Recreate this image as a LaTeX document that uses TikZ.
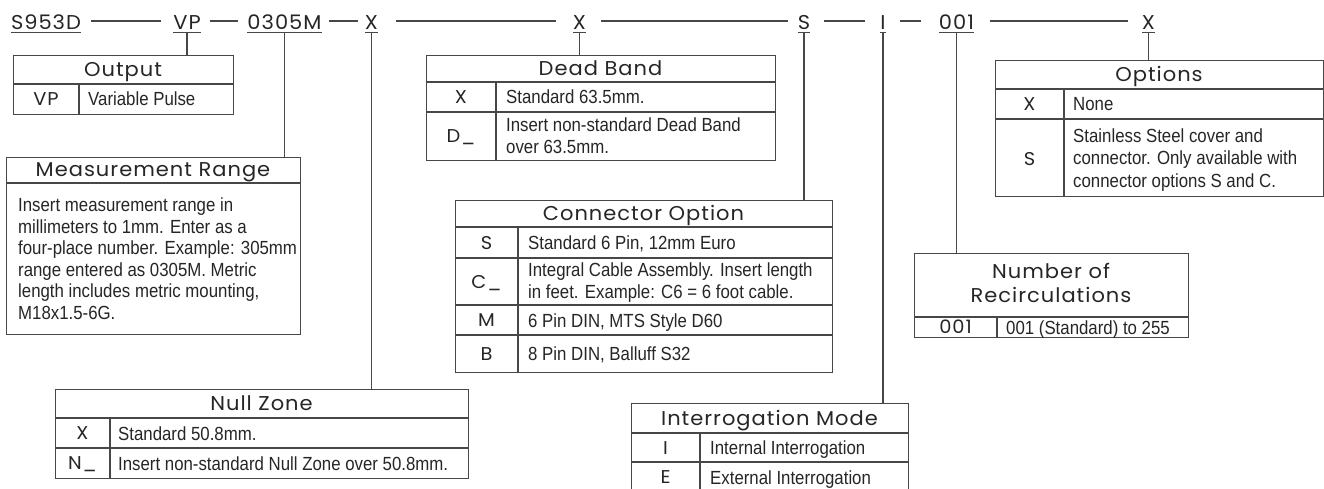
\documentclass[tikz,border=0pt]{standalone}
\usepackage{fontspec}
\setmainfont{Liberation Sans}[FakeStretch=0.885]
\newfontfamily\geo{Poppins}[FakeStretch=1.05, LetterSpace=5]
\tikzset{
  ln/.style={draw=black!72, line width=1.2pt},
  code/.style={font=\geo\fontsize{20}{20}\selectfont, inner xsep=0pt, inner ysep=2pt,
    text height=14pt, text depth=0pt, anchor=base, text=black!85},
  frame/.style={ln, rectangle, inner sep=0pt, anchor=north west},
  hdr/.style={font=\geo\fontsize{20}{24}\selectfont, inner sep=0pt, text=black!85,
    align=center, text height=14pt, text depth=0pt},
  key/.style={font=\geo\fontsize{18.5}{18.5}\selectfont, inner sep=0pt, text=black!85,
    text height=13pt, text depth=0pt},
  desc/.style={font=\fontsize{19}{22}\selectfont, inner sep=0pt, anchor=west, align=left,
    text=black!85, text height=14pt, text depth=0pt},
  multi/.style={text height={}, text depth={}},
}
\begin{document}
\begin{tikzpicture}[x=1pt,y=-1pt]
\clip (0,0) rectangle (1324,489);
\fill[white] (0,0) rectangle (1324,489);

% ---- code string ----
\node[code] (c1) at (46,30) {S953D};
\node[code] (c2) at (187,30) {VP};
\node[code] (c3) at (284.5,30) {0305M};
\node[code] (c4) at (371.5,30) {X};
\node[code] (c5) at (579.5,30) {X};
\node[code] (c6) at (804,30) {S};
\node[code] (c7) at (883,30) {I};
\node[code] (c8) at (956.5,30) {001};
\node[code] (c9) at (1148.5,30) {X};
\foreach \n in {c1,c2,c3,c4,c5,c6,c7,c8,c9}{\draw[ln] (\n.south west) -- (\n.south east);}
\draw[ln] ([xshift=10pt,yshift=2pt]c1.east) -- ([xshift=-12pt,yshift=2pt]c2.west);
\draw[ln] ([xshift=9pt,yshift=2pt]c2.east) -- ([xshift=-9pt,yshift=2pt]c3.west);
\draw[ln] ([xshift=7pt,yshift=2pt]c3.east) -- ([xshift=-7pt,yshift=2pt]c4.west);
\draw[ln] ([xshift=18pt,yshift=2pt]c4.east) -- ([xshift=-17pt,yshift=2pt]c5.west);
\draw[ln] ([xshift=15pt,yshift=2pt]c5.east) -- ([xshift=-10pt,yshift=2pt]c6.west);
\draw[ln] ([xshift=14pt,yshift=2pt]c6.east) -- ([xshift=-15pt,yshift=2pt]c7.west);
\draw[ln] ([xshift=14pt,yshift=2pt]c7.east) -- ([xshift=-18pt,yshift=2pt]c8.west);
\draw[ln] ([xshift=16pt,yshift=2pt]c8.east) -- ([xshift=-14pt,yshift=2pt]c9.west);

% ---- Output ----
\node[frame, minimum width=220pt, minimum height=59pt] (tOut) at (13,55) {};
\draw[ln] (13,84) -- (233,84);
\draw[ln] (79,84) -- (79,114);
\node[hdr] (hOut) at (123,69.5) {Output};
\node[key] (kOut) at (46,99) {VP};
\node[desc] (dOut) at (88,99) {Variable Pulse};

% ---- Measurement Range ----
\node[frame, minimum width=294pt, minimum height=177pt] (tMR) at (6,157) {};
\draw[ln] (6,183) -- (300,183);
\node[hdr] (hMR) at (153,170) {Measurement Range};
\node[desc, multi, anchor=north west, font=\fontsize{19}{21.5}\selectfont] (dMR) at (18,198)
 {Insert measurement range in\\millimeters to 1mm. Enter as a\\four-place number. Example: 305mm\\range entered as 0305M. Metric\\length includes metric mounting,\\M18x1.5-6G.};

% ---- Null Zone ----
\node[frame, minimum width=413pt, minimum height=89pt] (tNZ) at (55,389) {};
\draw[ln] (55,418) -- (468,418);
\draw[ln] (55,448) -- (468,448);
\draw[ln] (110,418) -- (110,478);
\node[hdr] (hNZ) at (261.5,403.5) {Null Zone};
\node[key] (kNZ1) at (82.5,433) {X};
\node[desc] (dNZ1) at (118,433) {Standard 50.8mm.};
\node[key] (kNZ2) at (82.5,463) {N\_};
\node[desc] (dNZ2) at (118,463) {Insert non-standard Null Zone over 50.8mm.};

% ---- Dead Band ----
\node[frame, minimum width=349pt, minimum height=105pt] (tDB) at (426,55) {};
\draw[ln] (426,82) -- (775,82);
\draw[ln] (426,112) -- (775,112);
\draw[ln] (496,82) -- (496,160);
\node[hdr] (hDB) at (600.5,68.5) {Dead Band};
\node[key] (kDB1) at (461,97) {X};
\node[desc] (dDB1) at (506,97) {Standard 63.5mm.};
\node[key] (kDB2) at (461,136) {D\_};
\node[desc, multi] (dDB2) at (506,136) {Insert non-standard Dead Band\\over 63.5mm.};

% ---- Connector Option ----
\node[frame, minimum width=377pt, minimum height=172pt] (tCO) at (455,200) {};
\draw[ln] (455,227) -- (832,227);
\draw[ln] (455,258) -- (832,258);
\draw[ln] (455,305) -- (832,305);
\draw[ln] (455,335) -- (832,335);
\draw[ln] (518,227) -- (518,372);
\node[hdr] (hCO) at (643.5,213.5) {Connector Option};
\node[key] (kCO1) at (486.5,242.5) {S};
\node[desc] (dCO1) at (528,242.5) {Standard 6 Pin, 12mm Euro};
\node[key] (kCO2) at (486.5,281.5) {C\_};
\node[desc, multi] (dCO2) at (528,282.5) {Integral Cable Assembly. Insert length\\in feet. Example: C6 = 6 foot cable.};
\node[key] (kCO3) at (486.5,320) {M};
\node[desc] (dCO3) at (528,320) {6 Pin DIN, MTS Style D60};
\node[key] (kCO4) at (486.5,353.5) {B};
\node[desc] (dCO4) at (528,353.5) {8 Pin DIN, Balluff S32};

% ---- Interrogation Mode ----
\node[frame, minimum width=277pt, minimum height=100pt] (tIM) at (631,403) {};
\draw[ln] (631,433) -- (908,433);
\draw[ln] (631,462) -- (908,462);
\draw[ln] (700,433) -- (700,503);
\node[hdr] (hIM) at (769.5,418) {Interrogation Mode};
\node[key] (kIM1) at (665.5,447.5) {I};
\node[desc] (dIM1) at (710,447.5) {Internal Interrogation};
\node[key] (kIM2) at (665.5,477) {E};
\node[desc] (dIM2) at (710,477) {External Interrogation};

% ---- Number of Recirculations ----
\node[frame, minimum width=274pt, minimum height=84pt] (tNR) at (914,253) {};
\draw[ln] (914,317) -- (1188,317);
\draw[ln] (997,317) -- (997,337);
\node[hdr, multi] (hNR) at (1051,283) {Number of\\Recirculations};
\node[key] (kNR) at (955.5,327) {001};
\node[desc] (dNR) at (1006,327) {001 (Standard) to 255};

% ---- Options ----
\node[frame, minimum width=328pt, minimum height=136pt] (tOP) at (995,60) {};
\draw[ln] (995,89) -- (1323,89);
\draw[ln] (995,119) -- (1323,119);
\draw[ln] (1064,89) -- (1064,196);
\node[hdr] (hOP) at (1159,74.5) {Options};
\node[key] (kOP1) at (1029.5,104) {X};
\node[desc] (dOP1) at (1073,104) {None};
\node[key] (kOP2) at (1029.5,159) {S};
\node[desc, multi, font=\fontsize{19}{22.5}\selectfont] (dOP2) at (1073,160) {Stainless Steel cover and\\connector. Only available with\\connector options S and C.};

% ---- leaders ----
\draw[ln] (c2.south) -- (c2.south |- tOut.north);
\draw[ln] (c3.south) -- (c3.south |- tMR.north);
\draw[ln] (c4.south) -- (c4.south |- tNZ.north);
\draw[ln] (c5.south) -- (c5.south |- tDB.north);
\draw[ln] (c6.south) -- (c6.south |- tCO.north);
\draw[ln] (c7.south) -- (c7.south |- tIM.north);
\draw[ln] (c8.south) -- (c8.south |- tNR.north);
\draw[ln] (c9.south) -- (c9.south |- tOP.north);
\end{tikzpicture}
\end{document}
